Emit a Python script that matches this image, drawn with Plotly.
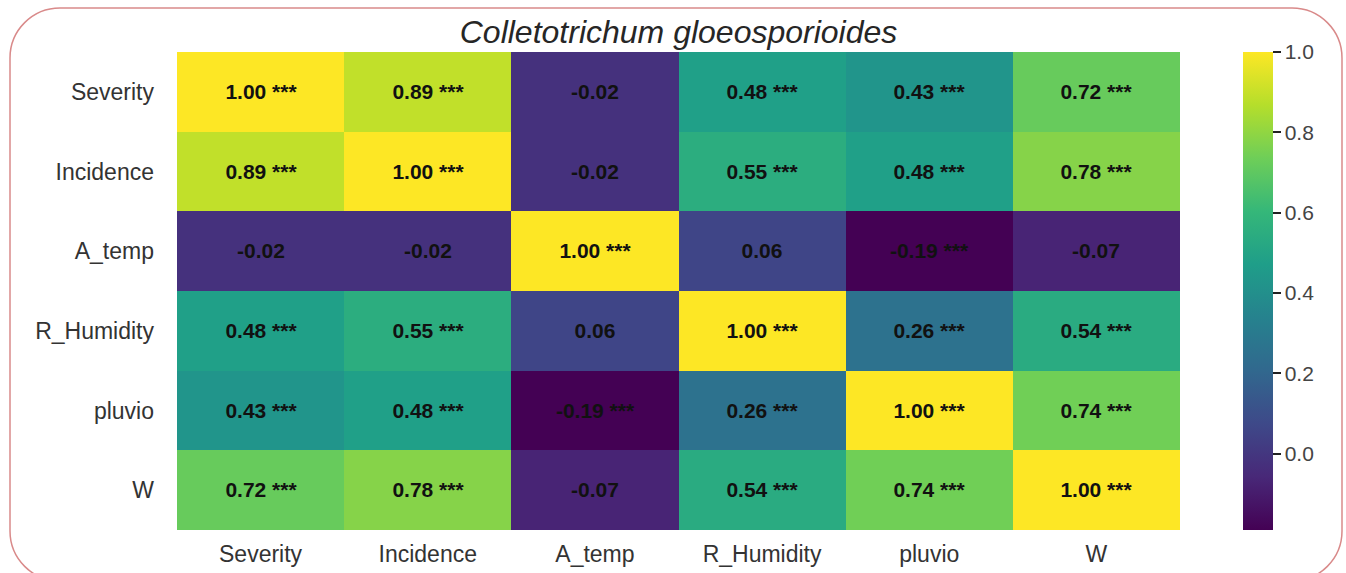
import plotly.graph_objects as go

# Variables of the correlation matrix
variables = ["Severity", "Incidence", "A_temp", "R_Humidity", "pluvio", "W"]

# Pearson correlation coefficients, one list per row
severity = [1.00, 0.89, -0.02, 0.48, 0.43, 0.72]
incidence = [0.89, 1.00, -0.02, 0.55, 0.48, 0.78]
a_temp = [-0.02, -0.02, 1.00, 0.06, -0.19, -0.07]
r_humidity = [0.48, 0.55, 0.06, 1.00, 0.26, 0.54]
pluvio = [0.43, 0.48, -0.19, 0.26, 1.00, 0.74]
w = [0.72, 0.78, -0.07, 0.54, 0.74, 1.00]

# Significance markers per cell
sig_severity = ["***", "***", "", "***", "***", "***"]
sig_incidence = ["***", "***", "", "***", "***", "***"]
sig_a_temp = ["", "", "***", "", "***", ""]
sig_r_humidity = ["***", "***", "", "***", "***", "***"]
sig_pluvio = ["***", "***", "***", "***", "***", "***"]
sig_w = ["***", "***", "", "***", "***", "***"]

colorbar_ticks = [0.0, 0.2, 0.4, 0.6, 0.8, 1.0]

z = [severity, incidence, a_temp, r_humidity, pluvio, w]
sig = [sig_severity, sig_incidence, sig_a_temp, sig_r_humidity, sig_pluvio, sig_w]
labels = [
    [f"{v:.2f} {s}".strip() for v, s in zip(row, srow)]
    for row, srow in zip(z, sig)
]

FONT = "Liberation Sans, Arial, sans-serif"
W_PX, H_PX = 1346, 573
L, R, T, B = 177, 166, 52, 43

fig = go.Figure(
    go.Heatmap(
        z=z,
        x=variables,
        y=variables,
        text=labels,
        texttemplate="%{text}",
        textfont=dict(family=FONT, size=21, color="#111111", weight="bold"),
        colorscale="Viridis",
        zmin=-0.19,
        zmax=1.0,
        xgap=0,
        ygap=0,
        hoverinfo="skip",
        colorbar=dict(
            thickness=30,
            len=1.0,
            lenmode="fraction",
            ypad=0,
            xpad=0,
            x=(1243 - L) / (W_PX - L - R),
            xanchor="left",
            y=0.5,
            yanchor="middle",
            outlinewidth=0,
            tickvals=colorbar_ticks,
            ticktext=[f"{t:.1f}" for t in colorbar_ticks],
            ticks="outside",
            ticklen=8,
            tickwidth=2,
            tickcolor="#222222",
            tickfont=dict(family=FONT, size=21, color="#444444"),
        ),
    )
)

# Convert pixel positions into paper coordinates for the frame
pw = W_PX - L - R
ph = H_PX - T - B


def px(xp):
    return (xp - L) / pw


def py(yp):
    return (H_PX - B - yp) / ph


# Rounded frame around the whole figure
x0, x1, y0, y1, r = 10, 1342, 8, 581, 50
k = 0.5523 * r
path = (
    f"M {px(x0 + r)},{py(y0)} "
    f"L {px(x1 - r)},{py(y0)} "
    f"C {px(x1 - r + k)},{py(y0)} {px(x1)},{py(y0 + r - k)} {px(x1)},{py(y0 + r)} "
    f"L {px(x1)},{py(y1 - r)} "
    f"C {px(x1)},{py(y1 - r + k)} {px(x1 - r + k)},{py(y1)} {px(x1 - r)},{py(y1)} "
    f"L {px(x0 + r)},{py(y1)} "
    f"C {px(x0 + r - k)},{py(y1)} {px(x0)},{py(y1 - r + k)} {px(x0)},{py(y1 - r)} "
    f"L {px(x0)},{py(y0 + r)} "
    f"C {px(x0)},{py(y0 + r - k)} {px(x0 + r - k)},{py(y0)} {px(x0 + r)},{py(y0)} Z"
)

fig.add_shape(
    type="path",
    path=path,
    xref="paper",
    yref="paper",
    line=dict(color="#d98a8a", width=1.5),
    fillcolor="rgba(0,0,0,0)",
    layer="above",
)

fig.update_layout(
    width=W_PX,
    height=H_PX,
    margin=dict(l=L, r=R, t=T, b=B, pad=0, autoexpand=False),
    paper_bgcolor="white",
    plot_bgcolor="white",
    title=dict(
        text="<i>Colletotrichum gloeosporioides</i>",
        x=(L + pw / 2) / W_PX,
        xanchor="center",
        y=1 - 32 / H_PX,
        yanchor="middle",
        font=dict(family=FONT, size=32, color="#262626"),
    ),
    xaxis=dict(
        showgrid=False,
        zeroline=False,
        ticks="",
        automargin=False,
        tickfont=dict(family=FONT, size=23, color="#333333"),
        ticklabelstandoff=8,
    ),
    yaxis=dict(
        showgrid=False,
        zeroline=False,
        ticks="",
        automargin=False,
        autorange="reversed",
        tickfont=dict(family=FONT, size=23, color="#333333"),
        ticklabelstandoff=22,
    ),
)

fig.write_html("out.html")
